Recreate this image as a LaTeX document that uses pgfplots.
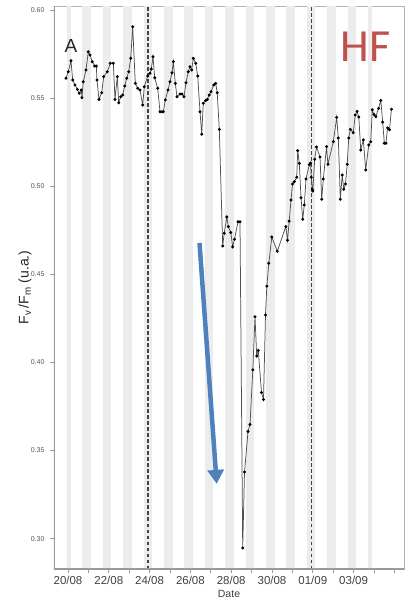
\documentclass[border=0pt]{standalone}
\usepackage{pgfplots}
\pgfplotsset{compat=1.18}
\usepackage{fontspec}
\setmainfont{Liberation Sans}
\newfontfamily\calibri{Carlito}
\usetikzlibrary{arrows.meta}
\definecolor{band}{HTML}{ECECEC}
\definecolor{framegray}{HTML}{B4B4B4}
\definecolor{spine}{HTML}{9A9A9A}
\definecolor{dashc}{HTML}{444444}
\definecolor{linec}{HTML}{505050}
\definecolor{hfred}{HTML}{C0504D}
\definecolor{arrowblue}{HTML}{4F81BD}
\definecolor{ticklab}{HTML}{555555}
\definecolor{xlab}{HTML}{404040}

\pgfplotstableread{
day val
19.902 0.5613
20.015 0.5650
20.147 0.5712
20.230 0.5603
20.343 0.5575
20.456 0.5550
20.554 0.5528
20.652 0.5546
20.686 0.5503
20.750 0.5593
20.882 0.5660
20.995 0.5763
21.078 0.5745
21.191 0.5707
21.309 0.5682
21.390 0.5682
21.420 0.5603
21.520 0.5493
21.652 0.5531
21.750 0.5622
21.926 0.5650
22.074 0.5698
22.221 0.5698
22.304 0.5493
22.417 0.5622
22.485 0.5474
22.583 0.5508
22.681 0.5518
22.779 0.5569
22.877 0.5613
22.975 0.5650
23.074 0.5726
23.172 0.5905
23.299 0.5584
23.417 0.5556
23.529 0.5546
23.662 0.5461
23.740 0.5565
23.907 0.5626
24.020 0.5641
24.083 0.5665
24.167 0.5735
24.250 0.5616
24.397 0.5556
24.510 0.5423
24.608 0.5423
24.672 0.5423
24.770 0.5490
24.902 0.5546
25.000 0.5593
25.098 0.5644
25.162 0.5707
25.260 0.5584
25.343 0.5508
25.490 0.5524
25.588 0.5524
25.686 0.5508
25.784 0.5588
25.897 0.5650
25.980 0.5678
26.064 0.5660
26.142 0.5726
26.260 0.5698
26.358 0.5626
26.471 0.5423
26.554 0.5295
26.632 0.5471
26.750 0.5486
26.828 0.5493
26.926 0.5518
27.010 0.5537
27.142 0.5575
27.240 0.5584
27.314 0.5531
27.417 0.5323
27.583 0.4661
27.657 0.4733
27.784 0.4826
27.858 0.4771
27.980 0.4738
28.074 0.4656
28.162 0.4699
28.333 0.4799
28.431 0.4799
28.564 0.2947
28.652 0.3378
28.824 0.3608
28.922 0.3648
29.059 0.3958
29.167 0.4259
29.250 0.4037
29.328 0.4068
29.485 0.3829
29.583 0.3790
29.681 0.4270
29.745 0.4433
29.843 0.4563
29.990 0.4712
30.260 0.4631
30.676 0.4771
30.760 0.4694
30.843 0.4802
30.931 0.4922
31.005 0.5013
31.093 0.5026
31.211 0.5051
31.260 0.5202
31.338 0.5130
31.422 0.4935
31.505 0.4813
31.583 0.4894
31.667 0.5041
31.828 0.5123
31.887 0.5132
31.926 0.5051
31.975 0.4983
32.000 0.4973
32.093 0.5153
32.181 0.5223
32.353 0.5166
32.436 0.4926
32.515 0.5041
32.672 0.5225
32.740 0.5125
33.005 0.5253
33.172 0.5391
33.250 0.5274
33.348 0.4926
33.441 0.5064
33.520 0.4983
33.603 0.5013
33.686 0.5125
33.760 0.5274
33.838 0.5323
33.985 0.5304
34.078 0.5404
34.167 0.5425
34.255 0.5393
34.348 0.5206
34.475 0.5263
34.593 0.5092
34.740 0.5234
34.838 0.5253
34.917 0.5434
35.000 0.5407
35.088 0.5395
35.221 0.5442
35.333 0.5487
35.426 0.5364
35.505 0.5244
35.583 0.5244
35.667 0.5331
35.760 0.5321
35.853 0.5437
}\fvfm

\begin{document}
\begin{tikzpicture}
\path[use as bounding box] (-54pt,-30pt) rectangle (356pt,569pt);
\begin{axis}[
  at={(0pt,0pt)}, anchor=south west,
  scale only axis, width=350pt, height=563pt,
  xmin=19.314, xmax=36.47, ymin=0.2828, ymax=0.6023,
  axis line style={draw=framegray, line width=0.8pt},
  tick align=outside, xtick pos=bottom, ytick pos=left,
  major tick length=4pt,
  tick style={draw=spine, line width=0.8pt},
  xtick={20,21,...,36},
  xticklabels={20/08,,22/08,,24/08,,26/08,,28/08,,30/08,,01/09,,03/09,,},
  ytick={0.30,0.35,0.40,0.45,0.50,0.55,0.60},
  yticklabel={\pgfmathprintnumber[fixed,fixed zerofill,precision=2]{\tick}},
  /pgf/number format/assume math mode=true,
  xticklabel style={font=\fontsize{11.5}{12}\selectfont, text=xlab},
  yticklabel style={font=\fontsize{7}{8}\selectfont, text=ticklab, xshift=-2pt},
  xlabel={Date},
  xlabel style={at={(axis description cs:0.5,-0.0444)}, anchor=center, font=\fontsize{10.5}{12}\selectfont, text=xlab},
  ylabel={F\textsubscript{v}\,/F\textsubscript{m} (u.a.)},
  ylabel style={at={(axis description cs:-0.0829,0.5)}, anchor=center, font=\fontsize{14}{16}\selectfont, text=black!85},
  clip=true,
]
\pgfplotsinvokeforeach{21,...,34}{
  \fill[band] (axis cs:{#1-0.29},0.2828) rectangle (axis cs:{#1+0.13},0.6023);
}
\fill[band] (axis cs:19.94,0.2828) rectangle (axis cs:20.15,0.6023);
\fill[band] (axis cs:34.69,0.2828) rectangle (axis cs:34.89,0.6023);
\draw[dashc, line width=1.3pt, dash pattern=on 3.5pt off 2.5pt] (axis cs:23.92,0.2828) -- (axis cs:23.92,0.6023);
\draw[dashc, line width=1.3pt, dash pattern=on 3.5pt off 2.5pt] (axis cs:31.92,0.2828) -- (axis cs:31.92,0.6023);
\addplot[linec, line width=0.75pt, mark=*, mark size=1.1pt, mark options={fill=black, draw=black}] table[x=day, y=val] {\fvfm};
\draw[spine, line width=1.6pt] (rel axis cs:0,1) -- (rel axis cs:0,0) -- (rel axis cs:1,0);
\node[font=\fontsize{19}{20}\selectfont, text=black!85] at (rel axis cs:0.0486,0.929) {A};
\node[font=\calibri\fontsize{46}{48}\selectfont, text=hfred] at (rel axis cs:0.891,0.9277) {HF};
\draw[arrowblue, line width=4.5pt, -{Triangle[width=16pt, length=14pt]}] (axis cs:26.446,0.4678) -- (axis cs:27.289,0.3311);
\end{axis}
\end{tikzpicture}
\end{document}
